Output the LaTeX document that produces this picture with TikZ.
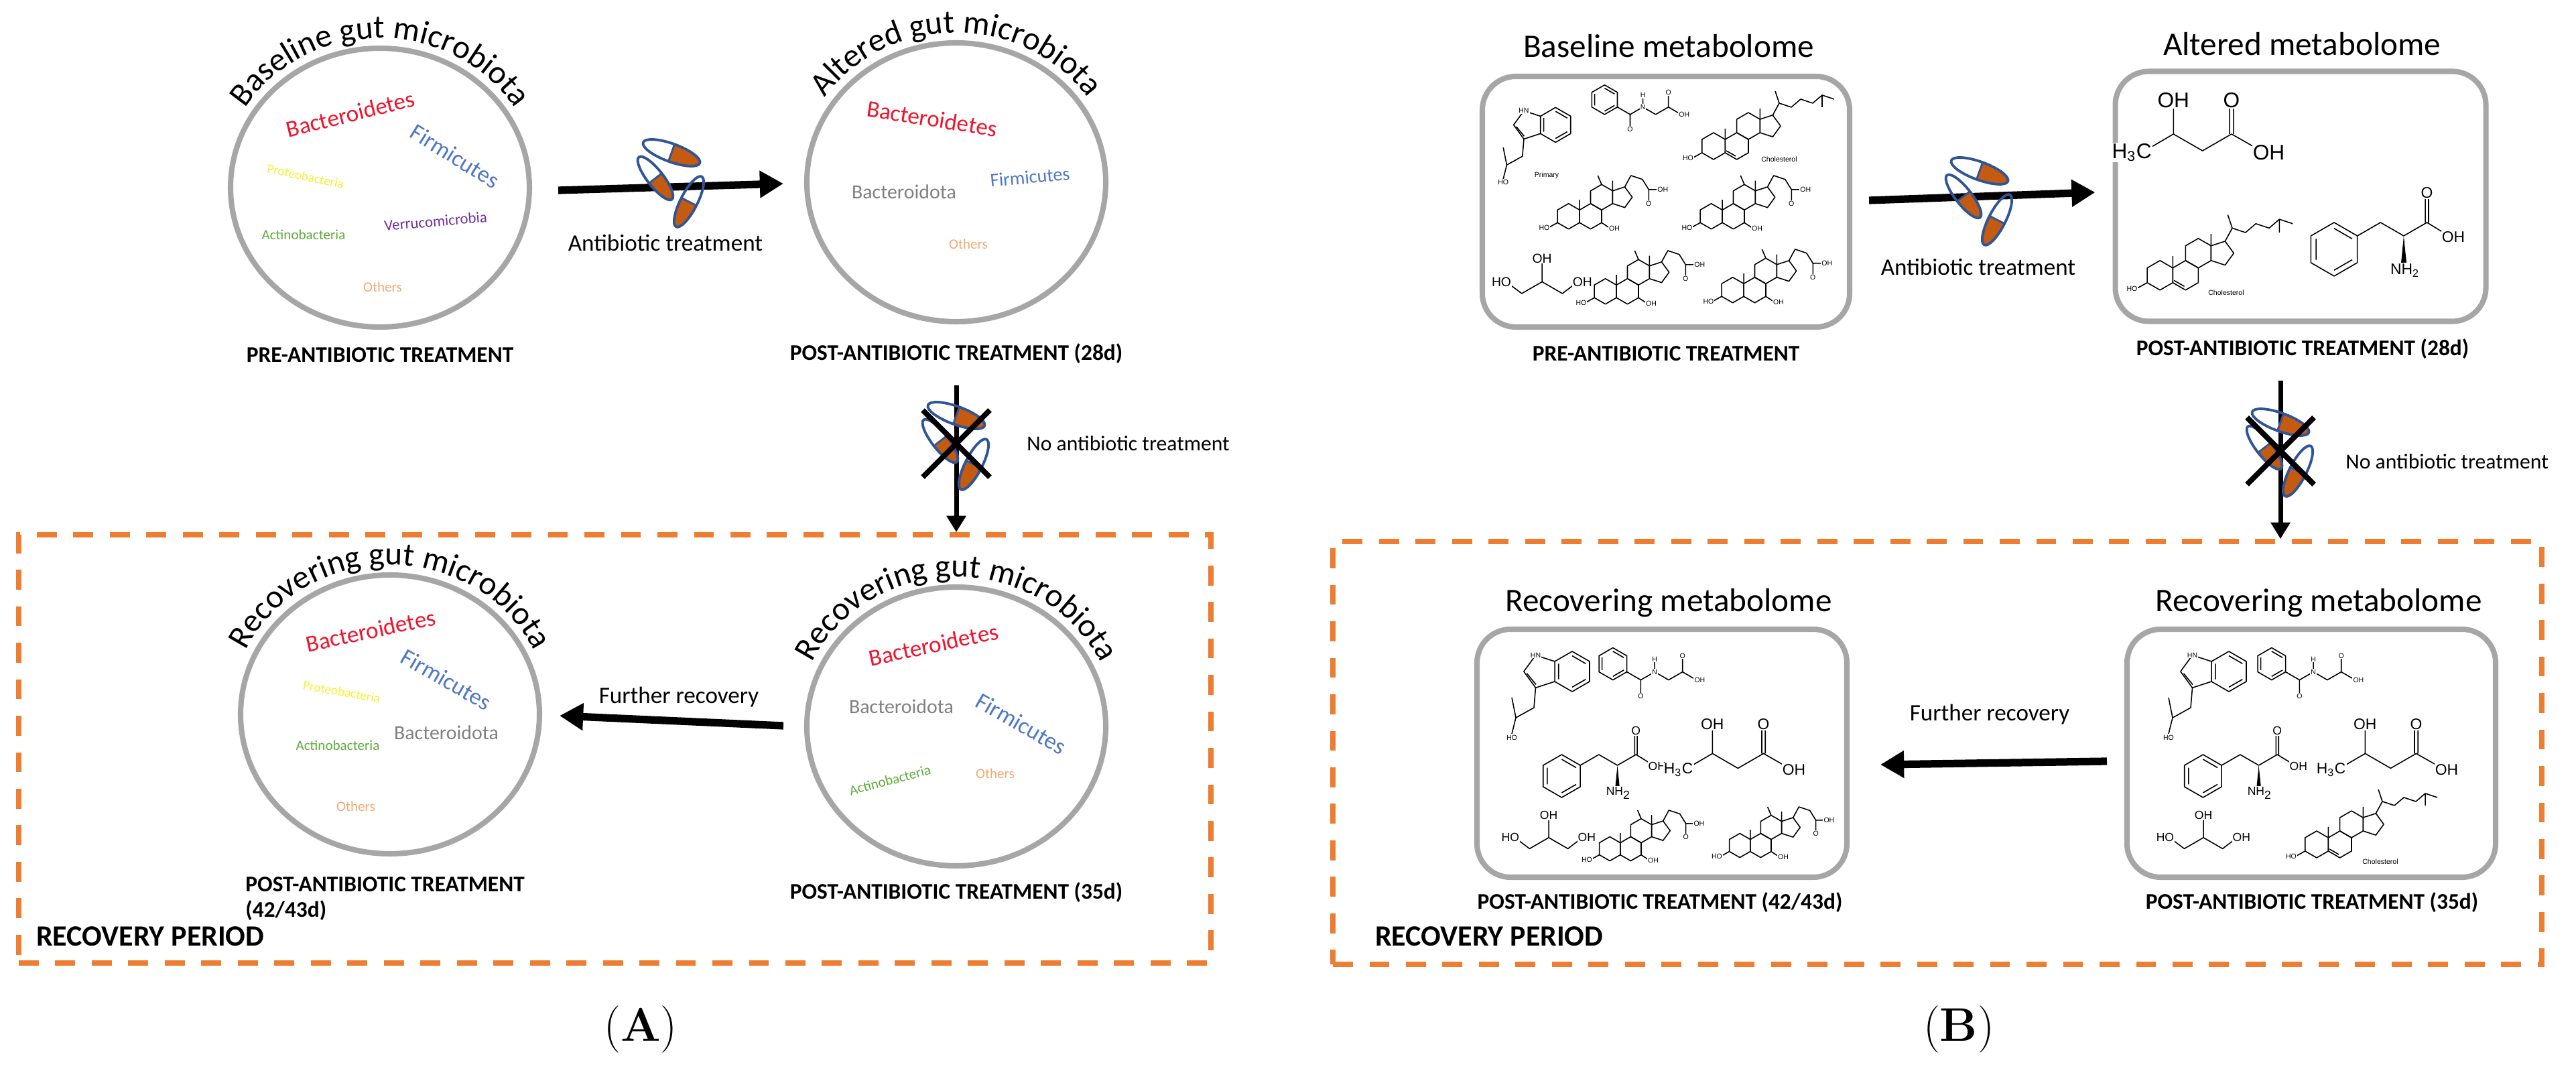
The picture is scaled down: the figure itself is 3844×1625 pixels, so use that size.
\documentclass[tikz,border=0pt]{standalone}
\usepackage{fontspec}
\newfontfamily\cali{Carlito}
\newfontfamily\arl{Liberation Sans}
\usetikzlibrary{arrows.meta,shapes.geometric,decorations.text,calc}
\definecolor{gcirc}{HTML}{A6A6A6}
\definecolor{dor}{HTML}{ED7D31}
\definecolor{cred}{HTML}{F0142D}
\definecolor{cblue}{HTML}{4F77C4}
\definecolor{cyel}{HTML}{F2F230}
\definecolor{cgreen}{HTML}{5DAA3A}
\definecolor{cpurp}{HTML}{7030A0}
\definecolor{coth}{HTML}{F4A870}
\definecolor{cgrey}{HTML}{808080}
\definecolor{pillor}{HTML}{C55A11}
\definecolor{pillbl}{HTML}{2F5597}
\def\mfs{4}
\newcommand\hexa[2]{\draw[mol] ({#1+0.866},{#2+0.5})--({#1},{#2+1})--({#1-0.866},{#2+0.5})--({#1-0.866},{#2-0.5})--({#1},{#2-1})--({#1+0.866},{#2-0.5})--cycle;}
\newcommand\benza[2]{\hexa{#1}{#2}\draw[mol] ({#1+0.675},{#2+0.39})--({#1},{#2+0.78}) ({#1-0.675},{#2+0.39})--({#1-0.675},{#2-0.39}) ({#1},{#2-0.78})--({#1+0.675},{#2-0.39});}
\newcommand\ringsys{\hexa{0}{0}\hexa{1.732}{0}\hexa{2.598}{1.5}
   \draw[mol] (3.464,2.0)--(3.464,1.0)--(4.415,0.691)--(5.003,1.5)--(4.415,2.309)--cycle;
   \draw[mol] (0.866,0.5)--(0.866,1.3) (3.464,2)--(3.464,2.8) (-0.866,-0.5)--(-1.5,-0.85);
   \node[lb] at (-1.9,-0.9) {HO};}
\tikzset{
 x=0.1mm,y=-0.1mm,
 gc/.style={ellipse,draw=gcirc,line width=2.3pt,minimum width=44.6mm,minimum height=41.6mm,inner sep=0},
 gbox/.style={rectangle,draw=gcirc,line width=2.3pt,rounded corners=5mm,inner sep=0},
 dbox/.style={rectangle,draw=dor,line width=2.2pt,dash pattern=on 8.5pt off 7pt,inner sep=0},
 arr/.style={line width=3.2pt,-{Triangle[length=10pt,width=11pt]}},
 varr/.style={line width=2pt,-{Triangle[length=7pt,width=8pt]}},
 lab/.style={font=\cali\bfseries\fontsize{9.5}{11}\selectfont},
 ttl/.style={font=\cali\fontsize{14}{16}\selectfont},
 mid/.style={font=\cali\fontsize{10}{12}\selectfont},
 mol/.style={line width=0.45pt,line join=round},
 lb/.style={fill=white,inner sep=0.3pt,font=\arl\fontsize{\mfs}{\mfs}\selectfont},
 pics/steroid/.style={code={\begin{scope}[yscale=-1,shift={(-2.6,-1.2)}]
   \ringsys
   \draw[mol] (4.415,2.309)--(4.9,3.2)--(5.8,2.9)--(6.3,2.1) (6.3,2.1)--(6.3,1.2) (6.3,2.1)--(7,2.1);
   \draw[mol] (2.598,-0.5)--(3.2,-0.9) (2.598,2.5)--(2.3,3.2);
   \node[lb] at (3.6,-0.95) {OH}; \node[lb] at (7.4,2.1) {OH}; \node[lb] at (6.3,1.0) {O};
   \end{scope}}},
 pics/chol/.style={code={\begin{scope}[yscale=-1,shift={(-3.4,-1.4)}]
   \ringsys
   \draw[mol] (0.95,-0.35)--(1.65,-0.75);
   \draw[mol] (4.415,2.309)--(4.9,3.2)--(5.8,2.9)--(6.5,3.5)--(7.4,3.2)--(8.1,3.8)--(9.0,3.5) (4.9,3.2)--(4.6,4.1) (8.1,3.8)--(8.1,2.9);
   \end{scope}}},
 pics/indole/.style={code={\begin{scope}[yscale=-1,shift={(1.2,1.1)}]
   \benza{0}{0}
   \draw[mol] (-0.866,0.5)--(-1.817,0.809)--(-2.405,0)--(-1.817,-0.809)--(-0.866,-0.5);
   \draw[mol] (-2.25,-0.1)--(-1.8,-0.65);
   \draw[mol] (-1.817,-0.809)--(-1.9,-1.8)--(-2.8,-2.3)--(-3.0,-1.3) (-2.8,-2.3)--(-3.0,-3.1);
   \node[lb] at (-1.817,0.809) {HN}; \node[lb] at (-3.0,-3.3) {HO};
   \end{scope}}},
 pics/hipp/.style={code={\begin{scope}[yscale=-1,shift={(-2.3,0.3)}]
   \benza{0}{0.3}
   \draw[mol] (0.866,-0.2)--(1.732,-0.7)--(2.598,-0.2)--(3.464,-0.7)--(4.33,-0.2)--(5.1,-0.65) (1.732,-0.7)--(1.732,-1.6) (4.33,-0.2)--(4.33,0.7) (2.598,-0.2)--(2.598,0.5);
   \node[lb] at (2.598,-0.2) {N}; \node[lb] at (2.598,0.6) {H}; \node[lb] at (1.732,-1.7) {O}; \node[lb] at (4.33,0.8) {O}; \node[lb] at (5.4,-0.7) {OH};
   \end{scope}}},
 pics/hba/.style={code={\begin{scope}[yscale=-1,shift={(-1.7,-0.6)}]
   \draw[mol] (0.1,0.05)--(0.866,0.5)--(1.732,0)--(2.598,0.5)--(3.3,0.1) (0.866,0.5)--(0.866,1.3) (2.54,0.5)--(2.54,1.3) (2.66,0.5)--(2.66,1.3);
   \node[lb,anchor=east] at (0.25,-0.05) {H\textsubscript{3}C}; \node[lb] at (0.866,1.5) {OH}; \node[lb] at (2.598,1.5) {O}; \node[lb,anchor=west] at (3.2,-0.05) {OH};
   \end{scope}}},
 pics/phe/.style={code={\begin{scope}[yscale=-1,shift={(-1.8,-0.5)}]
   \benza{0}{0}
   \draw[mol] (0.866,0.5)--(1.732,1.0)--(2.598,0.5)--(3.464,1.0)--(4.2,0.55) (3.404,1)--(3.404,1.9) (3.524,1)--(3.524,1.9);
   \fill (2.598,0.5)--(2.5,-0.5)--(2.7,-0.5)--cycle;
   \node[lb] at (2.65,-0.8) {NH\textsubscript{2}}; \node[lb] at (3.464,2.1) {O}; \node[lb] at (4.45,0.45) {OH};
   \end{scope}}},
 pics/glyc/.style={code={\begin{scope}[yscale=-1,shift={(-1.7,-0.3)}]
   \draw[mol] (0.2,0)--(0.866,-0.5)--(1.732,0)--(2.598,-0.5)--(3.25,0) (1.732,0)--(1.732,0.8);
   \node[lb] at (0,0) {HO}; \node[lb] at (1.732,1.0) {OH}; \node[lb] at (3.45,0) {OH};
   \end{scope}}},
 pics/capsule/.style={code={
   \begin{scope}\clip (0,-1) rectangle (1.1,1); \fill[pillor] (0,0) ellipse [x radius=1,y radius=.3]; \end{scope}
   \draw[pillbl,line width=1.1pt] (0,0) ellipse [x radius=1,y radius=.3];
   \draw[pillbl,line width=0.8pt] (0,-.3)--(0,.3);}},
 pics/pills/.style={code={
   \pic[rotate=-20,scale=45] at (-8,-45) {capsule};
   \pic[rotate=-52,scale=40] at (-32,-7) {capsule};
   \pic[rotate=-117,scale=42] at (18,28) {capsule};}},
}
\newcommand{\arct}[3]{\path[decorate,decoration={text along path,text align=center,text={|\cali\fontsize{14}{16}\selectfont|#3}}] (#1) ++(#2:238 and 223) arc[start angle=#2,end angle=540-#2,x radius=238,y radius=223];}
\begin{document}
\begin{tikzpicture}
\useasboundingbox (0,0) rectangle (3844,1625);
%% ---------- Panel A
\node[gc] (c1) at (567,280) {};
\node[gc] (c2) at (1427,272) {};
\node[gc] (c3) at (582,1066) {};
\node[gc] (c4) at (1427,1084) {};
\arct{c1.center}{200}{Baseline gut microbiota}
\arct{c2.center}{205}{Altered gut microbiota}
\arct{c3.center}{200}{Recovering gut microbiota}
\arct{c4.center}{200}{Recovering gut microbiota}
% circle 1
\node[rotate=14,text=cred,font=\cali\fontsize{10}{12}\selectfont] at ([shift={(-44,-110)}]c1.center) {Bacteroidetes};
\node[rotate=-32,text=cblue,font=\cali\fontsize{10}{12}\selectfont] at ([shift={(112,-47)}]c1.center) {Firmicutes};
\node[rotate=-12,text=cyel,font=\cali\fontsize{5.5}{6}\selectfont] at ([shift={(-111,-17)}]c1.center) {Proteobacteria};
\node[rotate=5,text=cpurp,font=\cali\fontsize{6.5}{7}\selectfont] at ([shift={(83,50)}]c1.center) {Verrucomicrobia};
\node[text=cgreen,font=\cali\fontsize{6}{7}\selectfont] at ([shift={(-114,70)}]c1.center) {Actinobacteria};
\node[text=coth,font=\cali\fontsize{6}{7}\selectfont] at ([shift={(4,148)}]c1.center) {Others};
% circle 2
\node[rotate=-9,text=cred,font=\cali\fontsize{10}{12}\selectfont] at ([shift={(-36,-95)}]c2.center) {Bacteroidetes};
\node[text=cgrey,font=\cali\fontsize{8.5}{10}\selectfont] at ([shift={(-78,14)}]c2.center) {Bacteroidota};
\node[rotate=5,text=cblue,font=\cali\fontsize{8}{10}\selectfont] at ([shift={(110,-8)}]c2.center) {Firmicutes};
\node[text=coth,font=\cali\fontsize{6}{7}\selectfont] at ([shift={(18,92)}]c2.center) {Others};
% circle 3
\node[rotate=12,text=cred,font=\cali\fontsize{10}{12}\selectfont] at ([shift={(-29,-125)}]c3.center) {Bacteroidetes};
\node[rotate=-30,text=cblue,font=\cali\fontsize{10}{12}\selectfont] at ([shift={(84,-52)}]c3.center) {Firmicutes};
\node[rotate=-10,text=cyel,font=\cali\fontsize{5.5}{6}\selectfont] at ([shift={(-72,-34)}]c3.center) {Proteobacteria};
\node[text=cgrey,font=\cali\fontsize{8.5}{10}\selectfont] at ([shift={(84,27)}]c3.center) {Bacteroidota};
\node[text=cgreen,font=\cali\fontsize{6}{7}\selectfont] at ([shift={(-78,46)}]c3.center) {Actinobacteria};
\node[text=coth,font=\cali\fontsize{6}{7}\selectfont] at ([shift={(-51,137)}]c3.center) {Others};
% circle 4
\node[rotate=12,text=cred,font=\cali\fontsize{10}{12}\selectfont] at ([shift={(-34,-122)}]c4.center) {Bacteroidetes};
\node[text=cgrey,font=\cali\fontsize{8.5}{10}\selectfont] at ([shift={(-82,-30)}]c4.center) {Bacteroidota};
\node[rotate=-30,text=cblue,font=\cali\fontsize{10}{12}\selectfont] at ([shift={(97,-4)}]c4.center) {Firmicutes};
\node[rotate=15,text=cgreen,font=\cali\fontsize{6}{7}\selectfont] at ([shift={(-99,80)}]c4.center) {Actinobacteria};
\node[text=coth,font=\cali\fontsize{6}{7}\selectfont] at ([shift={(58,70)}]c4.center) {Others};
% labels A
\node[lab] (l1) at (567,530) {PRE-ANTIBIOTIC TREATMENT};
\node[lab] (l2) at (1427,528) {POST-ANTIBIOTIC TREATMENT (28d)};
\node[lab,align=left,anchor=north west] (l3) at (354,1296) {POST-ANTIBIOTIC TREATMENT\\(42/43d)};
\node[lab] (l4) at (1427,1332) {POST-ANTIBIOTIC TREATMENT (35d)};
\node[dbox,minimum width=177.9mm,minimum height=63.9mm] (bA) at (917.5,1117.5) {};
\node[font=\cali\bfseries\fontsize{12.5}{14}\selectfont,anchor=base west,fill=white,inner sep=1pt] at (50,1412) {RECOVERY PERIOD};
% arrows A
\draw[arr] ([xshift=3.9mm,yshift=-0.4mm]c1.east) -- ([xshift=-3.1mm,yshift=-0.2mm]c2.west);
\pic at (1010,273) {pills};
\node[mid] at (993,362) {Antibiotic treatment};
\draw[varr] ([yshift=-2mm]l2.south) -- (bA.north -| l2);
\pic at (1435,665) {pills};
\draw[line width=2.3pt] (1377,612)--(1477,712) (1377,712)--(1477,612);
\node[font=\cali\fontsize{9}{11}\selectfont,anchor=west] at (1520,662) {No antibiotic treatment};
\draw[arr] ([xshift=-3.1mm,yshift=0.1mm]c4.west) -- ([xshift=2.6mm,yshift=-0.2mm]c3.east);
\node[mid] at (1013,1040) {Further recovery};
\node[font=\fontsize{20}{24}\selectfont] at (956,1536) {(\textbf{A})};
%% ---------- Panel B
\node[gbox,minimum width=54.8mm,minimum height=37.4mm] (b1) at (2486,301) {};
\node[gbox,minimum width=55.3mm,minimum height=37.3mm] (b2) at (3433,293) {};
\node[gbox,minimum width=55.2mm,minimum height=37mm] (b3) at (2480,1124) {};
\node[gbox,minimum width=55mm,minimum height=37mm] (b4) at (3449,1124) {};
\node[ttl] at (2490,69) {Baseline metabolome};
\node[ttl] at (3435,66) {Altered metabolome};
\node[ttl] at (2490,900) {Recovering metabolome};
\node[ttl] at (3460,900) {Recovering metabolome};
\node[lab] (m1) at (2486,528) {PRE-ANTIBIOTIC TREATMENT};
\node[lab] (m2) at (3436,521) {POST-ANTIBIOTIC TREATMENT (28d)};
\node[lab] (m3) at (2477,1347) {POST-ANTIBIOTIC TREATMENT (42/43d)};
\node[lab] (m4) at (3450,1347) {POST-ANTIBIOTIC TREATMENT (35d)};
\node[dbox,minimum width=180.4mm,minimum height=63.1mm] (bB) at (2891,1123.5) {};
\node[font=\cali\bfseries\fontsize{12.5}{14}\selectfont,anchor=base west,fill=white,inner sep=1pt] at (2048,1412) {RECOVERY PERIOD};
\draw[arr] ([xshift=2.5mm,yshift=0.2mm]b1.east) -- ([xshift=-2.6mm,yshift=0.6mm]b2.west);
\pic at (2962,300) {pills};
\node[mid] at (2952,398) {Antibiotic treatment};
\draw[varr] ([yshift=-2mm]m2.south -| 3403,0) -- (bB.north -| 3403,0);
\pic at (3411,675) {pills};
\draw[line width=2.3pt] (3353,623)--(3453,723) (3353,723)--(3453,623);
\node[font=\cali\fontsize{9}{11}\selectfont,anchor=west] at (3488,689) {No antibiotic treatment};
\draw[arr] ([xshift=-2.6mm,yshift=-1.2mm]b4.west) -- ([xshift=4.6mm,yshift=-1.7mm]b3.east);
\node[mid] at (2969,1066) {Further recovery};
\node[font=\fontsize{20}{24}\selectfont] at (2923,1536) {(\textbf{B})};
% molecules box1
\def\mfs{3}
\pic[scale=26] at (2290,215) {indole};
\node[lb] at (2308,262) {Primary};
\pic[scale=22] at (2445,162) {hipp};
\pic[scale=20] at (2625,190) {chol};
\node[lb] at (2655,238) {Cholesterol};
\pic[scale=19] at (2390,300) {steroid};
\pic[scale=19] at (2603,300) {steroid};
\pic[scale=19] at (2445,412) {steroid};
\pic[scale=19] at (2635,410) {steroid};
\def\mfs{5.5}
\pic[scale=35] at (2300,410) {glyc};
% box2
\def\mfs{9}
\pic[scale=50] at (3285,195) {hba};
\def\mfs{6.5}
\pic[scale=40] at (3555,352) {phe};
\def\mfs{3}
\pic[scale=22] at (3298,380) {chol};
\node[lb] at (3322,437) {Cholesterol};
% box3
\def\mfs{3}
\pic[scale=30] at (2310,1035) {indole};
\pic[scale=24] at (2462,1005) {hipp};
\pic[scale=18] at (2449,1245) {steroid};
\pic[scale=18] at (2643,1240) {steroid};
\def\mfs{5}
\pic[scale=32] at (2388,1142) {phe};
\pic[scale=33] at (2310,1240) {glyc};
\def\mfs{6.5}
\pic[scale=44] at (2592,1120) {hba};
% box4
\def\mfs{3}
\pic[scale=30] at (3290,1035) {indole};
\pic[scale=24] at (3445,1005) {hipp};
\pic[scale=20] at (3525,1232) {chol};
\node[lb] at (3552,1286) {Cholesterol};
\def\mfs{5}
\pic[scale=32] at (3345,1142) {phe};
\pic[scale=33] at (3287,1240) {glyc};
\def\mfs{6.5}
\pic[scale=44] at (3566,1120) {hba};
\end{tikzpicture}
\end{document}
